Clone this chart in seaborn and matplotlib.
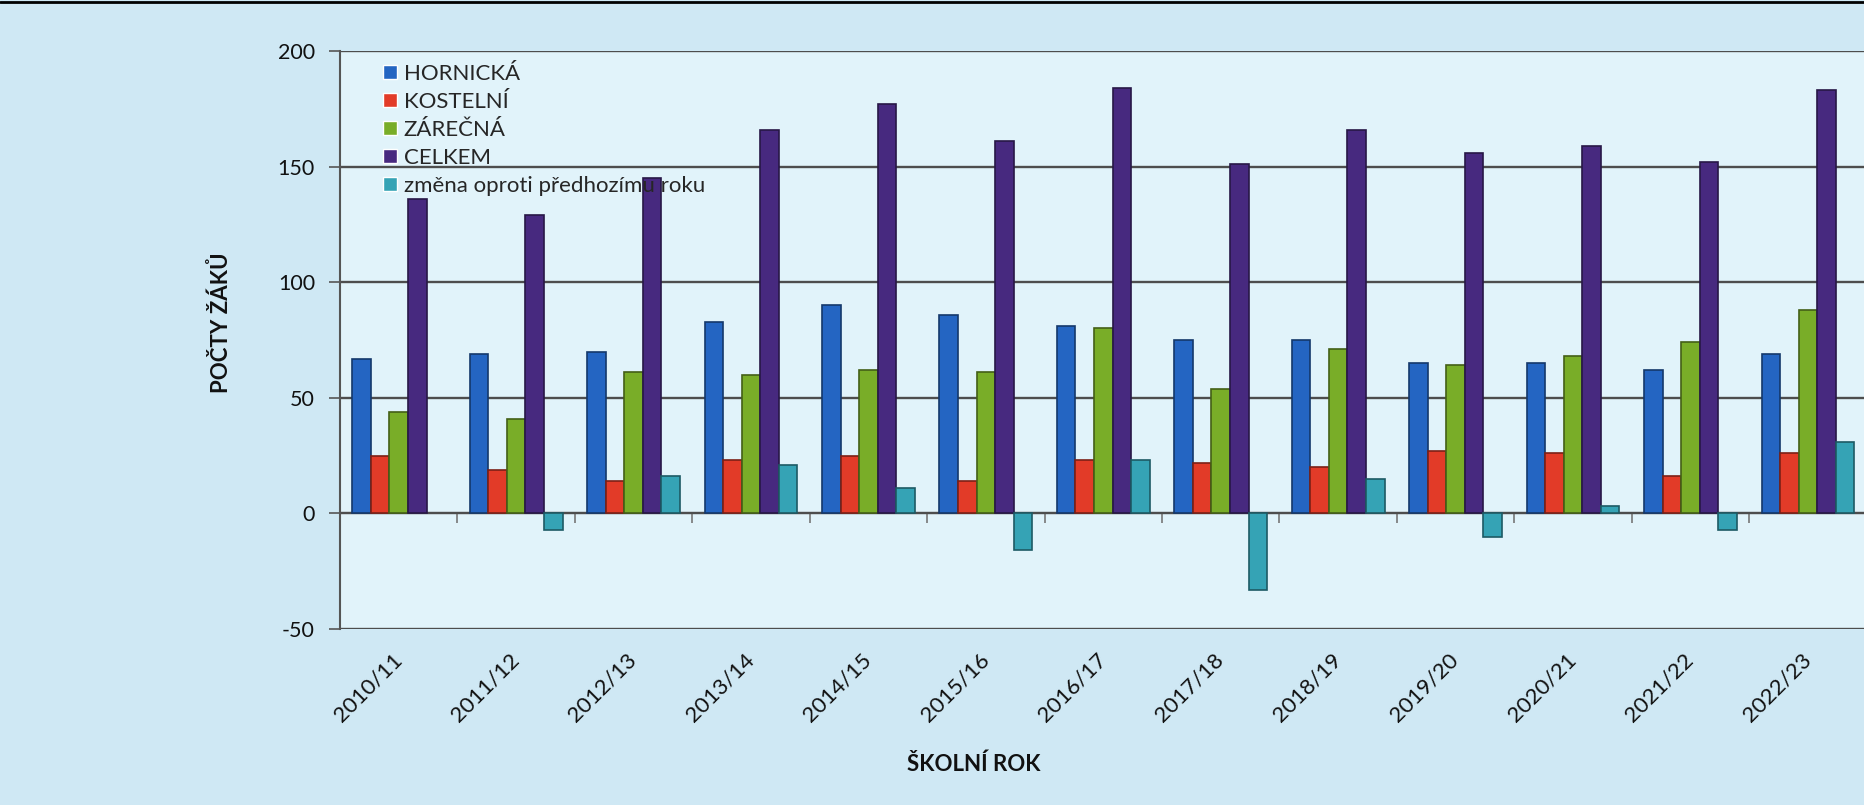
import numpy as np
import pandas as pd
import matplotlib
matplotlib.use("Agg")
import matplotlib.pyplot as plt
import matplotlib.colors as mcolors
from matplotlib.lines import Line2D
import seaborn as sns

# ---- data ----
years = ["2010/11", "2011/12", "2012/13", "2013/14", "2014/15", "2015/16", "2016/17",
         "2017/18", "2018/19", "2019/20", "2020/21", "2021/22", "2022/23"]
hornicka = [67, 69, 70, 83, 90, 86, 81, 75, 75, 65, 65, 62, 69]
kostelni = [25, 19, 14, 23, 25, 14, 23, 22, 20, 27, 26, 16, 26]
zarecna = [44, 41, 61, 60, 62, 61, 80, 54, 71, 64, 68, 74, 88]
celkem = [136, 129, 145, 166, 177, 161, 184, 151, 166, 156, 159, 152, 183]
zmena = [np.nan, -7, 16, 21, 11, -16, 23, -33, 15, -10, 3, -7, 31]
series_names = ["HORNICKÁ", "KOSTELNÍ", "ZÁREČNÁ", "CELKEM", "změna oproti předhozímu roku"]
series_colors = ["#2465c2", "#e23b28", "#79ad28", "#47297f", "#35a3b5"]
y_ticks = [-50, 0, 50, 100, 150, 200]

rows = []
for name, vals in zip(series_names, [hornicka, kostelni, zarecna, celkem, zmena]):
    for yr, v in zip(years, vals):
        rows.append({"rok": yr, "hodnota": v, "řada": name})
df = pd.DataFrame(rows).dropna()

sns.set_theme(style="white")
plt.rcParams["font.family"] = ["Lato", "DejaVu Sans"]
plt.rcParams["axes.unicode_minus"] = False

fig = plt.figure(figsize=(18.64, 8.05), dpi=100)
fig.patch.set_facecolor("#cfe8f4")
ax = fig.add_axes([0.1824, 0.2186, 0.819, 0.718])
ax.set_facecolor("#e1f3fa")

sns.barplot(data=df, x="rok", y="hodnota", hue="řada", order=years,
            hue_order=series_names, palette=series_colors, saturation=1,
            width=0.79, errorbar=None, ax=ax, zorder=3)

for cont, col in zip(ax.containers, series_colors):
    dark = np.array(mcolors.to_rgb(col)) * 0.55
    for p in cont:
        p.set_edgecolor(dark)
        p.set_linewidth(1.2)

ax.set_xlim(-0.5, len(years) - 0.5)
ax.set_ylim(-50, 200)
ax.set_yticks(y_ticks)
ax.yaxis.grid(True, color="#4d4d4d", linewidth=1.7, zorder=0)
ax.set_axisbelow(True)
for s in ["top", "right", "bottom"]:
    ax.spines[s].set_visible(False)
ax.spines["left"].set_color("#555555")
ax.spines["left"].set_linewidth(1.5)
ax.tick_params(axis="y", length=8, width=1.2, color="#555555", pad=10,
               labelsize=15.5, labelcolor="#111111", left=True)
ax.tick_params(axis="x", length=0, pad=20, labelsize=16, labelcolor="#111111")
for lbl in ax.get_xticklabels():
    lbl.set_rotation(45)
    lbl.set_ha("right")
    lbl.set_va("center")
    lbl.set_rotation_mode("anchor")

# zero axis with category-boundary ticks
sec = ax.secondary_xaxis(0.2)
sec.set_xticks(np.arange(-0.5, len(years), 1.0))
sec.set_xticklabels([])
sec.tick_params(axis="x", length=7, width=1.2, color="#777777", direction="out")
sec.spines["bottom"].set_color("#8a8a8a")
sec.spines["bottom"].set_linewidth(1.5)

ax.set_ylabel("POČTY ŽÁKŮ", fontsize=16, fontweight="bold", color="#111111")
ax.yaxis.set_label_coords(-0.071, 0.53)
ax.set_xlabel("ŠKOLNÍ ROK", fontsize=16, fontweight="bold", color="#111111")
ax.xaxis.set_label_coords(0.415, -0.215)

handles, labels = ax.get_legend_handles_labels()
ax.legend(handles, labels, loc="upper left", bbox_to_anchor=(0.028, 0.978),
          frameon=False, fontsize=16, handlelength=0.65, handleheight=0.65,
          handletextpad=0.3, labelspacing=0.36, borderpad=0, borderaxespad=0)

fig.add_artist(Line2D([0, 1], [0.998, 0.998], transform=fig.transFigure,
                      color="black", linewidth=2))

fig.savefig("out.png", dpi=100, facecolor=fig.get_facecolor())
